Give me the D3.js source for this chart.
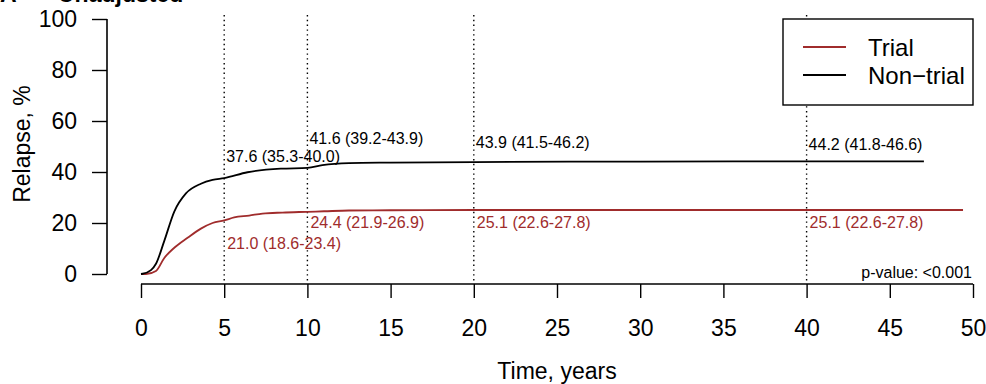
<!DOCTYPE html>
<html>
<head>
<meta charset="utf-8">
<script src="https://cdn.jsdelivr.net/npm/d3@7"></script>
<style>
  body { margin: 0; background: #fff; }
  svg text { font-family: "Liberation Sans", Arial, sans-serif; }
</style>
</head>
<body>
<div class="chartHolder"></div>
<script>
// cumulative incidence of relapse
var trialTime  = [0, 0.3, 0.9, 1.4, 2.0, 2.8, 3.6, 4.3, 5.0, 5.6, 6.5, 7.3, 8.5, 10.0, 11.0, 12.5, 15, 20, 30, 40, 49.4];
var trialValue = [0, 0, 1.2, 6.3, 10.3, 14.2, 17.8, 20.0, 21.0, 22.2, 22.9, 23.7, 24.1, 24.4, 24.6, 24.9, 25.0, 25.1, 25.1, 25.1, 25.1];
var nonTrialTime  = [0, 0.1, 0.6, 0.9, 1.4, 2.0, 2.7, 3.6, 4.3, 5.0, 6.4, 8.4, 10.0, 10.9, 12.5, 15, 20, 30, 40, 47.05];
var nonTrialValue = [0, 0.1, 1.5, 4.0, 13.0, 24.5, 31.6, 35.4, 36.9, 37.6, 39.9, 41.3, 41.6, 42.7, 43.5, 43.7, 43.9, 44.1, 44.2, 44.2];

var markTimes = [5, 10, 20, 40];
var trialLabels    = ["21.0 (18.6-23.4)", "24.4 (21.9-26.9)", "25.1 (22.6-27.8)", "25.1 (22.6-27.8)"];
var nonTrialLabels = ["37.6 (35.3-40.0)", "41.6 (39.2-43.9)", "43.9 (41.5-46.2)", "44.2 (41.8-46.6)"];

var xTicks = [0, 5, 10, 15, 20, 25, 30, 35, 40, 45, 50];
var yTicks = [0, 20, 40, 60, 80, 100];
var seriesNames = ["Trial", "Non\u2212trial"];
var red = "#a02c2c", black = "#000";

var svgW = 986, svgH = 384;
var svg = d3.select(".chartHolder").append("svg").attr("width", svgW).attr("height", svgH);

var x = d3.scaleLinear().domain([0, 50]).range([141, 973]);
var y = d3.scaleLinear().domain([0, 100]).range([274, 19]);

// panel title, mostly cut off at the top edge (as in the source figure)
svg.append("text").attr("x", 0).attr("y", 1.5).attr("font-size", 23).attr("font-weight", "bold").text("A");
svg.append("text").attr("x", 24).attr("y", 1.5).attr("font-size", 23).attr("font-weight", "bold").text("\u2013");
svg.append("text").attr("x", 58).attr("y", 1.5).attr("font-size", 23).attr("font-weight", "bold").text("Unadjusted");

// axes, R style
var xAxis = d3.axisBottom(x).tickValues(xTicks).tickSize(14).tickPadding(0).tickFormat(d3.format("d"));
var gx = svg.append("g").attr("transform", "translate(0,284)").call(xAxis);
gx.select(".domain").attr("d", "M" + x(0) + ",0H" + x(50)).attr("stroke-width", 1.6);
gx.selectAll(".tick line").attr("stroke-width", 1.4);
gx.selectAll(".tick text").attr("font-size", 23).attr("fill", "#000").attr("dy", null).attr("y", 52);

var yAxis = d3.axisLeft(y).tickValues(yTicks).tickSize(15).tickPadding(15);
var gy = svg.append("g").attr("transform", "translate(107,0)").call(yAxis);
gy.select(".domain").attr("d", "M0," + y(0) + "V" + y(100)).attr("stroke-width", 1.6);
gy.selectAll(".tick line").attr("stroke-width", 1.4);
gy.selectAll(".tick text").attr("font-size", 23).attr("fill", "#000");

svg.append("text").attr("x", 557).attr("y", 379).attr("text-anchor", "middle")
  .attr("font-size", 23).text("Time, years");
svg.append("text").attr("transform", "translate(30,144) rotate(-90)").attr("text-anchor", "middle")
  .attr("font-size", 23).text("Relapse, %");

// dotted reference lines
svg.selectAll(".vref").data(markTimes).enter().append("line").attr("class", "vref")
  .attr("x1", function (d) { return x(d); }).attr("x2", function (d) { return x(d); })
  .attr("y1", 15).attr("y2", 282)
  .attr("stroke", "#000").attr("stroke-width", 1.4).attr("stroke-dasharray", "1.4,3.4");

var line = d3.line().curve(d3.curveMonotoneX)
  .x(function (d) { return x(d[0]); }).y(function (d) { return y(d[1]); });

svg.append("path").datum(d3.zip(trialTime, trialValue)).attr("d", line)
  .attr("fill", "none").attr("stroke", red).attr("stroke-width", 1.8);
svg.append("path").datum(d3.zip(nonTrialTime, nonTrialValue)).attr("d", line)
  .attr("fill", "none").attr("stroke", black).attr("stroke-width", 1.8);

// estimates at marked times
var blackY = [162, 144, 147.5, 150];
var redY = [249, 228, 228, 228];
svg.selectAll(".lblN").data(nonTrialLabels).enter().append("text").attr("class", "lblN")
  .attr("x", function (d, i) { return x(markTimes[i]) + 2; })
  .attr("y", function (d, i) { return blackY[i]; })
  .attr("font-size", 16).attr("fill", "#000").text(function (d) { return d; });
svg.selectAll(".lblT").data(trialLabels).enter().append("text").attr("class", "lblT")
  .attr("x", function (d, i) { return x(markTimes[i]) + 3; })
  .attr("y", function (d, i) { return redY[i]; })
  .attr("font-size", 16).attr("fill", red).text(function (d) { return d; });

svg.append("text").attr("x", 972).attr("y", 278).attr("text-anchor", "end")
  .attr("font-size", 16).text("p-value: <0.001");

// legend
var lg = svg.append("g");
lg.append("rect").attr("x", 783).attr("y", 19).attr("width", 190).attr("height", 86)
  .attr("fill", "#fff").attr("stroke", "#000").attr("stroke-width", 1.4);
var lgColors = [red, black];
seriesNames.forEach(function (name, i) {
  var ly = 47 + i * 28;
  lg.append("line").attr("x1", 803).attr("x2", 846).attr("y1", ly).attr("y2", ly)
    .attr("stroke", lgColors[i]).attr("stroke-width", 1.8);
  lg.append("text").attr("x", 868).attr("y", ly + 9).attr("font-size", 24).text(name);
});
</script>
</body>
</html>
